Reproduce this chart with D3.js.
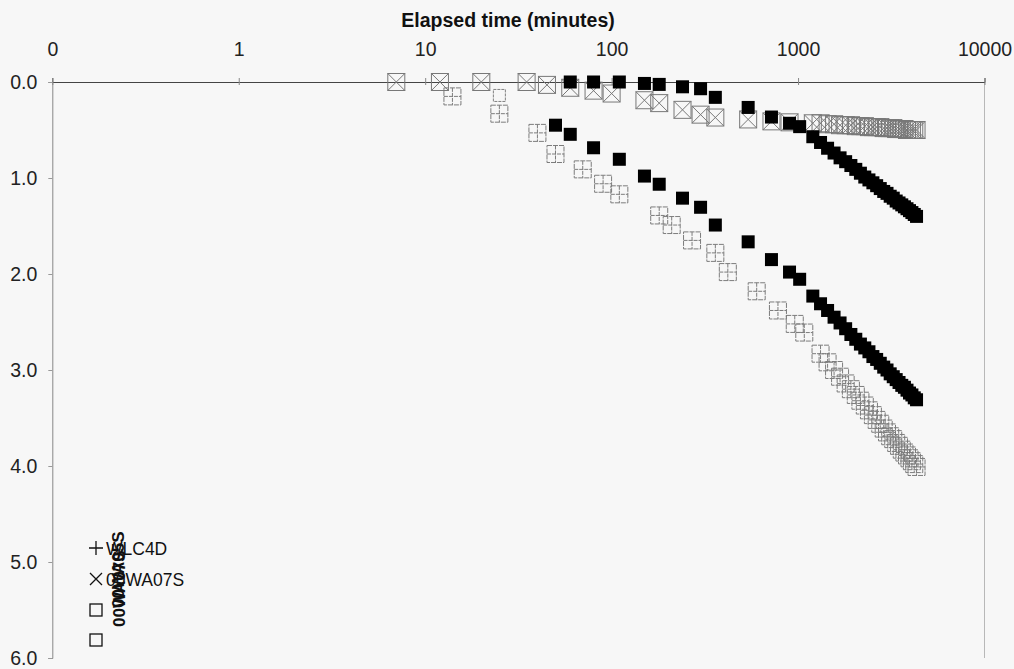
<!DOCTYPE html>
<html>
<head>
<meta charset="utf-8">
<script src="https://cdn.jsdelivr.net/npm/d3@7"></script>
<style>
  body { margin: 0; background: #f8f8f8; }
  svg { display: block; font-family: "Liberation Sans", Arial, sans-serif; }
</style>
</head>
<body>
<svg id="chart" width="1014" height="669"></svg>
<script>
// ---- axis ticks ----
const xTickValues = [0.1, 1, 10, 100, 1000, 10000];
const xTickLabels = ["0", "1", "10", "100", "1000", "10000"];
const yTickValues = [0, 1, 2, 3, 4, 5, 6];

// ---- series: elapsed time (minutes) and drawdown ----
// boxed-x series
const boxXTime = [7, 12, 20, 35, 45, 60, 80, 100, 150, 180, 240, 300, 360, 540, 720, 900,
  1200, 1320, 1440, 1560, 1680, 1800, 1920, 2040, 2160, 2280, 2400, 2520, 2640, 2760,
  2880, 3000, 3120, 3240, 3360, 3480, 3600, 3720, 3840, 3960, 4080, 4200, 4320];
const boxXDepth = [0, 0, 0, 0, 0.03, 0.06, 0.09, 0.12, 0.19, 0.22, 0.29, 0.34, 0.37, 0.39, 0.41, 0.42,
  0.43, 0.43, 0.44, 0.44, 0.45, 0.45, 0.45, 0.46, 0.46, 0.46, 0.47, 0.47, 0.47, 0.47,
  0.48, 0.48, 0.48, 0.48, 0.49, 0.49, 0.49, 0.49, 0.50, 0.50, 0.50, 0.50, 0.50];

// boxed-plus series
const boxPlusTime = [14, 25, 40, 50, 70, 90, 110, 180, 210, 270, 360, 420, 600, 780, 960, 1080,
  1320, 1440, 1560, 1680, 1800, 1920, 2040, 2160, 2280, 2400, 2520, 2640, 2760, 2880,
  3000, 3120, 3240, 3360, 3480, 3600, 3720, 3840, 3960, 4080, 4200, 4320];
const boxPlusDepth = [0.15, 0.33, 0.53, 0.75, 0.91, 1.06, 1.17, 1.39, 1.49, 1.65, 1.78, 1.98, 2.18, 2.38, 2.52, 2.61,
  2.83, 2.92, 3.00, 3.07, 3.14, 3.20, 3.26, 3.32, 3.37, 3.42, 3.47, 3.52, 3.56, 3.61,
  3.65, 3.69, 3.72, 3.76, 3.79, 3.83, 3.86, 3.89, 3.92, 3.95, 3.98, 4.01];

// single open square
const openSquareTime = [25];
const openSquareDepth = [0.14];

// filled-square series, shallow
const blackUpperTime = [60, 80, 110, 150, 180, 240, 300, 360, 540, 720, 900, 1020,
  1200, 1320, 1440, 1560, 1680, 1800, 1920, 2040, 2160, 2280, 2400, 2520, 2640, 2760,
  2880, 3000, 3120, 3240, 3360, 3480, 3600, 3720, 3840, 3960, 4080, 4200, 4320];
const blackUpperDepth = [0, 0, 0, 0.015, 0.025, 0.05, 0.07, 0.16, 0.265, 0.365, 0.43, 0.465,
  0.57, 0.63, 0.69, 0.74, 0.79, 0.83, 0.87, 0.91, 0.95, 0.99, 1.02, 1.05, 1.08, 1.11,
  1.14, 1.16, 1.19, 1.21, 1.24, 1.26, 1.28, 1.30, 1.32, 1.34, 1.36, 1.38, 1.40];

// filled-square series, deep
const blackLowerTime = [50, 60, 80, 110, 150, 180, 240, 300, 360, 540, 720, 900, 1020,
  1200, 1320, 1440, 1560, 1680, 1800, 1920, 2040, 2160, 2280, 2400, 2520, 2640, 2760,
  2880, 3000, 3120, 3240, 3360, 3480, 3600, 3720, 3840, 3960, 4080, 4200, 4320];
const blackLowerDepth = [0.45, 0.545, 0.685, 0.805, 0.98, 1.065, 1.21, 1.305, 1.49, 1.665, 1.85, 1.98, 2.055,
  2.23, 2.31, 2.38, 2.45, 2.51, 2.57, 2.63, 2.68, 2.73, 2.77, 2.81, 2.86, 2.89, 2.93,
  2.97, 3.00, 3.04, 3.07, 3.10, 3.13, 3.16, 3.18, 3.21, 3.24, 3.26, 3.29, 3.31];

// legend entries
const legendLabels = ["WLC4D", "00WA07S", "", ""];
const legendRotated = ["00WA07S", "00WA05S"];

(function draw() {
  const zip = (t, d) => t.map((v, i) => ({ t: v, d: d[i] }));

  const svg = d3.select("#chart");
  const W = 1014, H = 669;
  const pLeft = 52.3, pRight = 984.5, pTop = 82, pBottom = 658;
  const font = "'Liberation Sans', Arial, sans-serif";

  const x = d3.scaleLog().domain([0.1, 10000]).range([pLeft, pRight]);
  const y = d3.scaleLinear().domain([0, 6]).range([pTop, pBottom]);

  svg.append("rect").attr("width", W).attr("height", H).attr("fill", "#f7f7f7");

  // right edge of the plot frame
  svg.append("line").attr("x1", pRight).attr("x2", pRight).attr("y1", pTop).attr("y2", pBottom)
    .attr("stroke", "#b8b8b8").attr("stroke-width", 1);

  // top x axis
  const xAxis = svg.append("g").attr("transform", `translate(0,${pTop})`)
    .call(d3.axisTop(x).tickValues(xTickValues)
      .tickFormat((d, i) => xTickLabels[i]).tickSizeOuter(0).tickSize(4).tickPadding(22));
  xAxis.select(".domain").attr("stroke", "#444");
  xAxis.selectAll(".tick line").attr("stroke", "#888").attr("y1", 3).attr("y2", -4);
  xAxis.selectAll(".tick text").attr("font-size", 19.5).attr("fill", "#222")
    .attr("font-family", font);

  // left y axis
  const yAxis = svg.append("g").attr("transform", `translate(${pLeft},0)`)
    .call(d3.axisLeft(y).tickValues(yTickValues).tickFormat(d3.format(".1f"))
      .tickSizeOuter(0).tickSize(4).tickPadding(11));
  yAxis.select(".domain").attr("stroke", "#888");
  yAxis.selectAll(".tick line").attr("stroke", "#999");
  yAxis.selectAll(".tick text").attr("font-size", 19.5).attr("fill", "#222")
    .attr("font-family", font);

  // axis title
  svg.append("text").attr("x", 508).attr("y", 27)
    .attr("text-anchor", "middle").attr("font-size", 19.5).attr("font-weight", "bold")
    .attr("fill", "#111").text("Elapsed time (minutes)");

  // ---- markers ----
  const plot = svg.append("g");
  const boxSize = 17, solidSize = 13;

  function boxX(sel, s) {
    const h = s / 2;
    sel.append("rect").attr("x", -h).attr("y", -h).attr("width", s).attr("height", s)
      .attr("fill", "none").attr("stroke", "#787878").attr("stroke-width", 1);
    sel.append("path").attr("d", `M${-h},${-h}L${h},${h}M${h},${-h}L${-h},${h}`)
      .attr("stroke", "#787878").attr("stroke-width", 1).attr("fill", "none");
  }
  function boxPlus(sel, s) {
    const h = s / 2;
    sel.append("rect").attr("x", -h).attr("y", -h).attr("width", s).attr("height", s)
      .attr("fill", "none").attr("stroke", "#7c7c7c").attr("stroke-width", 1)
      .attr("stroke-dasharray", "5,1");
    sel.append("path").attr("d", `M0,${-h}L0,${h}M${-h},0L${h},0`)
      .attr("stroke", "#7c7c7c").attr("stroke-width", 1).attr("stroke-dasharray", "4,1")
      .attr("fill", "none");
  }

  plot.append("g").selectAll("g").data(zip(boxXTime, boxXDepth)).join("g")
    .attr("transform", d => `translate(${x(d.t)},${y(d.d)})`)
    .each(function () { boxX(d3.select(this), boxSize); });

  plot.append("g").selectAll("g").data(zip(boxPlusTime, boxPlusDepth)).join("g")
    .attr("transform", d => `translate(${x(d.t)},${y(d.d)})`)
    .each(function () { boxPlus(d3.select(this), boxSize); });

  plot.append("g").selectAll("rect").data(zip(openSquareTime, openSquareDepth)).join("rect")
    .attr("x", d => x(d.t) - 6).attr("y", d => y(d.d) - 6).attr("width", 12).attr("height", 12)
    .attr("fill", "none").attr("stroke", "#808080").attr("stroke-dasharray", "3,1");

  [[blackLowerTime, blackLowerDepth], [blackUpperTime, blackUpperDepth]].forEach(([t, dd]) => {
    plot.append("g").selectAll("rect").data(zip(t, dd)).join("rect")
      .attr("x", d => x(d.t) - solidSize / 2).attr("y", d => y(d.d) - solidSize / 2)
      .attr("width", solidSize).attr("height", solidSize).attr("fill", "#000");
  });

  // ---- legend ----
  const lg = svg.append("g").attr("transform", "translate(96,548)");
  const rowGap = 31;
  lg.append("path").attr("d", "M-7,0L7,0M0,-7L0,7").attr("stroke", "#111").attr("stroke-width", 1.3);
  lg.append("path").attr("transform", `translate(0,${rowGap})`).attr("d", "M-6,-6L6,6M6,-6L-6,6")
    .attr("stroke", "#111").attr("stroke-width", 1.3);
  [2, 3].forEach(i => {
    lg.append("rect").attr("x", -6).attr("y", i * rowGap - 6 + (i === 3 ? -1 : 0))
      .attr("width", 12).attr("height", 12)
      .attr("fill", "none").attr("stroke", "#111").attr("stroke-width", 1.3);
  });
  legendLabels.forEach((s, i) => {
    if (!s) return;
    lg.append("text").attr("x", 10).attr("y", i * rowGap + 7).attr("font-size", 17.5)
      .attr("fill", "#111").attr("font-family", font).text(s);
  });
  // stacked rotated labels
  legendRotated.forEach((s, i) => {
    svg.append("text").attr("transform", `translate(${125 - i},${627 - i * 19}) rotate(-90)`)
      .attr("font-size", 17).attr("font-weight", "bold").attr("fill", "#111")
      .attr("font-family", font).text(s);
  });
})();
</script>
</body>
</html>
